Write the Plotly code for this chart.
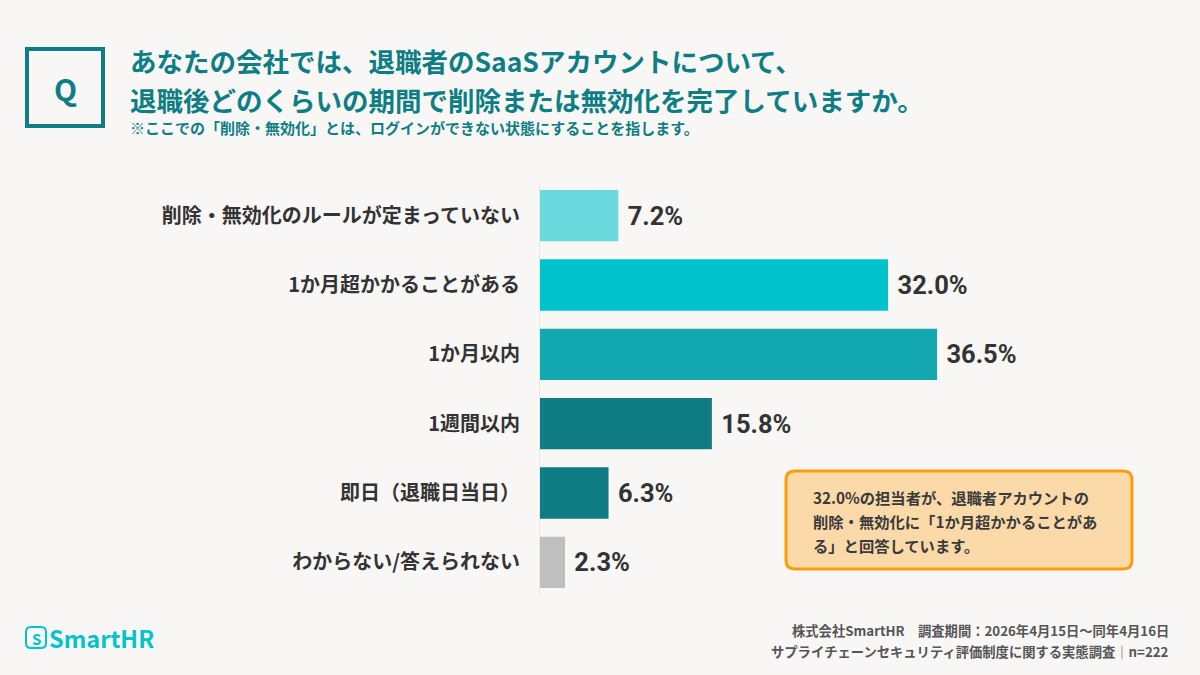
import plotly.graph_objects as go

categories = [
    "削除・無効化のルールが定まっていない",
    "1か月超かかることがある",
    "1か月以内",
    "1週間以内",
    "即日（退職日当日）",
    "わからない/答えられない",
]
values = [7.2, 32.0, 36.5, 15.8, 6.3, 2.3]
bar_colors = ["#6ad9de", "#00c3cb", "#14a8b1", "#107c83", "#107c83", "#bfbfbf"]

title_lines = [
    "あなたの会社では、退職者のSaaSアカウントについて、",
    "退職後どのくらいの期間で削除または無効化を完了していますか。",
]
subtitle = "※ここでの「削除・無効化」とは、ログインができない状態にすることを指します。"
callout_lines = [
    "32.0%の担当者が、退職者アカウントの",
    "削除・無効化に「1か月超かかることがあ",
    "る」と回答しています。",
]
footer_lines = [
    "株式会社SmartHR　調査期間：2026年4月15日～同年4月16日",
    "サプライチェーンセキュリティ評価制度に関する実態調査｜n=222",
]

W, H = 1200, 675
L, R, T, B = 540, 60, 181, 78
PW, PH = W - L - R, H - T - B
FONT = "Noto Sans CJK JP"
TEAL = "#0f7e84"
BG = "#f8f7f5"


def px(x):
    return (x - L) / PW


def py(y):
    return 1 - (y - T) / PH


def rounded(x0, y0, x1, y1, r):
    X0, X1, Y0, Y1, rx, ry = px(x0), px(x1), py(y0), py(y1), r / PW, r / PH
    return (f"M {X0 + rx} {Y0} L {X1 - rx} {Y0} Q {X1} {Y0} {X1} {Y0 - ry} "
            f"L {X1} {Y1 + ry} Q {X1} {Y1} {X1 - rx} {Y1} L {X0 + rx} {Y1} "
            f"Q {X0} {Y1} {X0} {Y1 + ry} L {X0} {Y0 - ry} Q {X0} {Y0} {X0 + rx} {Y0} Z")


fig = go.Figure(go.Bar(
    x=values, y=categories, orientation="h",
    marker=dict(color=bar_colors, line=dict(width=0)),
    texttemplate=" %{x:.1f}%", textposition="outside", cliponaxis=False,
    textfont=dict(family="Roboto", size=25.5, color="#333333", weight="bold"),
    hoverinfo="skip",
))

fig.update_layout(
    width=W, height=H,
    margin=dict(l=L, r=R, t=T, b=B),
    paper_bgcolor=BG, plot_bgcolor=BG,
    bargap=0.26, showlegend=False,
    font=dict(family=FONT),
)
fig.update_xaxes(range=[0, PW / 10.88], visible=False, fixedrange=True)
fig.update_yaxes(
    autorange="reversed", showgrid=False, zeroline=False, fixedrange=True,
    showline=True, linecolor="#ebe9e6", linewidth=1,
    ticks="", ticklabelstandoff=15,
    tickfont=dict(family=FONT, size=20, color="#333333", weight="bold"),
)

shapes = [
    # Q box
    dict(type="rect", xref="paper", yref="paper", x0=px(27), x1=px(103), y0=py(49), y1=py(126),
         line=dict(color=TEAL, width=4), fillcolor="rgba(0,0,0,0)"),
    # callout
    dict(type="path", xref="paper", yref="paper", path=rounded(786, 471, 1132, 569, 9),
         line=dict(color="#ff9e0d", width=3), fillcolor="#fbd9a9"),
    # logo icon
    dict(type="path", xref="paper", yref="paper", path=rounded(26, 627, 46, 648, 5),
         line=dict(color="#00c3cb", width=2), fillcolor="rgba(0,0,0,0)"),
]

ann = []


def text(x, y, s, size, color, xanchor="left", weight="bold", family=FONT):
    ann.append(dict(x=px(x), y=py(y), xref="paper", yref="paper", text=s, showarrow=False,
                    xanchor=xanchor, yanchor="middle",
                    font=dict(family=family, size=size, color=color, weight=weight)))


text(65, 88, "Q", 30, TEAL, "center")
text(128, 60, title_lines[0], 26.5, TEAL)
text(128, 99, title_lines[1], 26.5, TEAL)
text(128, 127, subtitle, 15, TEAL)
for i, line in enumerate(callout_lines):
    text(811, 497 + i * 24, line, 15.3, "#3a3a3a")
for i, line in enumerate(footer_lines):
    text(1171, 630 + i * 21, line, 13.3, "#555555", "right")
text(36, 638, "S", 15, "#00c3cb", "center")
text(47, 638, "SmartHR", 23.5, "#00c3cb")

fig.update_layout(shapes=shapes, annotations=ann)
fig.write_html(
    "out.html",
    config={"displayModeBar": False},
    post_script=f"document.body.style.margin='0';document.body.style.background='{BG}';",
)
